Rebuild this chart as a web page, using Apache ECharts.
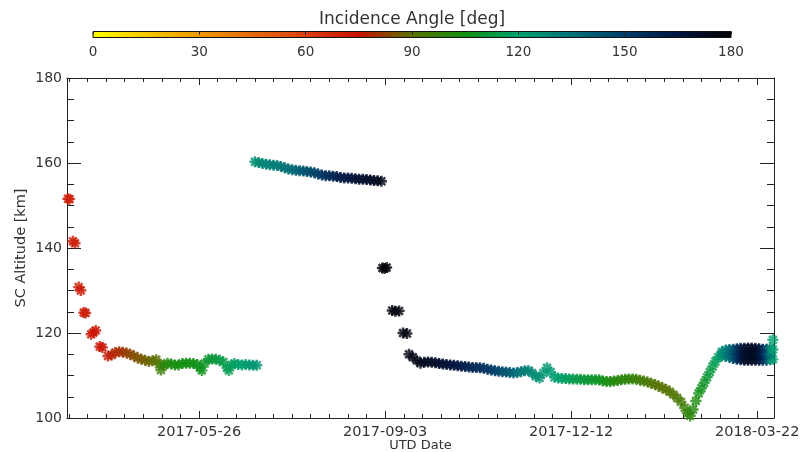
<!DOCTYPE html>
<html>
<head>
<meta charset="utf-8">
<title>SC Altitude vs UTD Date</title>
<script src="https://cdn.jsdelivr.net/npm/echarts@6.0.0/dist/echarts.min.js"></script>
<style>
html,body{margin:0;padding:0;background:#fff;}
#chart{width:803px;height:452px;}
</style>
</head>
<body>
<div id="chart"></div>
<script>
// ---------------- DATA ----------------
// x values are days counted from 2017-02-15 00:00 UTC
const dateTickLabels = ['2017-05-26', '2017-09-03', '2017-12-12', '2018-03-22'];
const altitudeTicks = [100, 120, 140, 160, 180];
const angleTicks = [0, 30, 60, 90, 120, 150, 180];

// Phase 1: early descent clusters and the first low band
const day1 = [29.5, 30.4, 32.2, 33.3, 35.3, 36.4, 38.0, 39.0, 42.0, 43.2, 44.4, 46.6, 48.0,
  51, 53, 55, 57, 59, 61, 63, 65, 67, 69, 71, 73, 75, 77, 78.5, 79.5,
  81, 83, 85, 87, 89, 91, 93, 95, 97, 99, 100.5, 101.5,
  103, 105, 107, 109, 111, 113, 115, 116, 117.5, 119, 121, 123, 125, 127, 129, 131];
const alt1 = [151.6, 151.5, 141.6, 141.1, 130.8, 130.0, 124.8, 124.7, 119.7, 120.1, 120.6, 116.8, 116.6,
  114.6, 114.8, 115.4, 115.6, 115.5, 115.3, 115.0, 114.6, 114.1, 113.8, 113.6, 113.3, 113.5, 113.7, 112.6, 111.3,
  112.4, 112.9, 112.7, 112.5, 112.5, 112.8, 112.9, 112.9, 112.8, 112.6, 111.8, 111.2,
  112.8, 113.8, 113.9, 113.8, 113.6, 113.2, 111.8, 111.2, 112.5, 112.8, 112.6, 112.5, 112.6, 112.5, 112.4, 112.4];
const inc1 = [72, 72, 72, 72, 72, 73, 73, 73, 73, 73, 74, 74, 75,
  76, 77, 78, 79, 80, 82, 83, 84, 85, 86, 87, 88, 89, 90, 93, 96,
  99, 101, 103, 104, 104, 105, 105, 105, 106, 106, 107, 107,
  108, 110, 111, 112, 113, 114, 115, 115, 116, 118, 119, 120, 121, 122, 123, 124];

// Phase 2: high arc
const day2 = [130, 132, 134, 136, 138, 140, 142, 144, 146, 148, 150, 152, 154, 156, 158, 160, 162, 164,
  166, 168, 170, 172, 174, 176, 178, 180, 182, 184, 186, 188, 190, 192, 194, 196, 198];
const alt2 = [160.3, 160.1, 159.9, 159.7, 159.6, 159.5, 159.4, 159.2, 158.9, 158.6, 158.4, 158.3, 158.2, 158.1,
  158.0, 157.9, 157.7, 157.4, 157.2, 157.0, 157.0, 156.9, 156.8, 156.6, 156.5, 156.5, 156.4, 156.3, 156.2,
  156.2, 156.1, 156.0, 155.9, 155.8, 155.7];
const inc2 = [126, 127, 128, 129, 130, 131, 132, 133, 134, 135, 136, 138, 140, 142, 144, 146, 148, 150,
  152, 154, 156, 158, 160, 162, 163, 164, 166, 167, 168, 169, 170, 171, 172, 173, 174];

// Phase 3: step-down clusters
const day3 = [198.5, 199.7, 200.8, 203.8, 205.5, 207.5, 209.6, 211.7, 212.8, 214.9, 217.1];
const alt3 = [135.3, 135.2, 135.4, 125.3, 125.1, 125.2, 120.0, 119.9, 115.0, 114.3, 113.5];
const inc3 = [178, 178, 178, 177, 177, 177, 177, 177, 176, 176, 175];

// Phase 4: late low band, dip and recovery
const day4 = [219, 221, 223, 225, 227, 229, 231, 233, 235, 237, 239, 241, 243, 245, 247, 249, 251, 253,
  255, 257, 259, 261, 263, 265, 267, 269, 271, 273, 275, 277, 279, 281, 283, 285, 287, 289, 291, 293,
  295, 297, 299, 301, 303, 305, 307, 309, 311, 313, 315,
  317, 319, 321, 323, 325, 327, 329, 331, 333, 335, 337, 339, 341, 343, 345, 347, 349, 351, 353, 355,
  357, 359, 361,
  362.5, 364, 365.5, 367, 368.5, 370, 371.5, 373, 374.5, 376, 377.5, 379];
const alt4 = [112.9, 113.1, 113.2, 113.1, 113.0, 112.8, 112.7, 112.6, 112.5, 112.4, 112.3, 112.2, 112.1,
  112.0, 111.9, 111.9, 111.8, 111.7, 111.5, 111.3, 111.1, 111.0, 110.9, 110.8, 110.7, 110.6, 110.7, 110.9,
  111.1, 111.2, 110.6, 109.8, 109.4, 110.6, 111.8, 110.8, 109.6, 109.4, 109.3, 109.3, 109.2, 109.2, 109.1,
  109.1, 109.0, 109.0, 109.0, 109.0, 109.0,
  108.7, 108.6, 108.6, 108.7, 108.8, 109.0, 109.1, 109.2, 109.2, 109.1, 108.9, 108.7, 108.5, 108.2, 107.9,
  107.5, 107.1, 106.7, 106.2, 105.5, 104.7, 103.8, 102.4,
  101.2, 100.5, 102.0, 104.0, 105.8, 107.0, 108.3, 109.6, 110.8, 112.1, 113.3, 114.3];
const inc4 = [175, 174, 173, 172, 171, 170, 169, 168, 167, 166, 165, 164, 162, 160, 158, 157, 155, 154,
  153, 152, 150, 148, 146, 144, 142, 139, 136, 134, 132, 130, 128, 127, 126, 124, 123, 122, 121, 120,
  119, 118, 117, 115, 114, 113, 112, 111, 110, 109, 108,
  106, 104, 103, 102, 101, 100, 100, 99, 98, 97, 96, 95, 94, 93, 92, 91, 91, 91, 92, 92,
  93, 94, 96,
  98, 100, 101, 103, 105, 107, 108, 110, 112, 114, 116, 118];

// Phase 5: final plateau (lower edge, middle and upper edge of the spread)
const day5 = [381, 383, 385, 387, 389, 391, 393, 395, 397, 399, 401, 403, 405, 407, 408.4];
const alt5Low = [114.6, 114.5, 114.3, 114.0, 113.8, 113.7, 113.6, 113.6, 113.6, 113.6, 113.6, 113.6, 113.6, 113.7, 113.8];
const alt5Mid = [115.1, 115.2, 115.2, 115.1, 115.0, 115.0, 115.0, 115.0, 115.0, 115.0, 114.9, 114.9, 114.9, 115.0, 116.1];
const alt5High = [115.6, 116.0, 116.1, 116.2, 116.3, 116.4, 116.4, 116.5, 116.5, 116.4, 116.3, 116.2, 116.2, 116.4, 118.4];
const inc5 = [124, 130, 136, 142, 152, 162, 168, 172, 173, 172, 168, 160, 148, 132, 120];

// ---------------- STYLE ----------------
const FONT = 'DejaVu Sans';
const TXT = '#333333';
const AX = '#222222';
const PALETTE = ['#ffff00', '#f6c800', '#ee9a00', '#e46a08', '#da4010', '#c81000', '#5a7000',
  '#109010', '#00a06e', '#007078', '#003c68', '#001440', '#000000'];
const ASTERISK = 'path://M0 3.9L10 3.9L10 6.1L0 6.1Z M3.9 0L6.1 0L6.1 10L3.9 10Z ' +
  'M0.7 2.3L2.3 0.7L9.3 7.7L7.7 9.3Z M7.7 0.7L9.3 2.3L2.3 9.3L0.7 7.7Z';

const EPOCH = Date.UTC(2017, 1, 15);
const DAY_MS = 86400000;
const toDay = s => (Date.parse(s + 'T00:00:00Z') - EPOCH) / DAY_MS;
const fmtDay = v => new Date(EPOCH + Math.round(v) * DAY_MS).toISOString().slice(0, 10);

const X_MIN = 29, X_MAX = 409;
const majorX = dateTickLabels.map(toDay);
const minorX = [];
for (let d = Math.ceil(X_MIN / 10) * 10; d <= X_MAX; d += 10) minorX.push(d);

const points = [];
function addPhase(days, alts, incs) {
  days.forEach((d, i) => points.push([d, alts[i], incs[i]]));
}
addPhase(day1, alt1, inc1);
addPhase(day2, alt2, inc2);
addPhase(day3, alt3, inc3);
addPhase(day4, alt4, inc4);
addPhase(day5, alt5Low, inc5);
addPhase(day5, alt5High, inc5);
addPhase(day5, alt5Mid, inc5);

const gridRect = { left: 67, right: 29, top: 78, bottom: 34, outerBoundsMode: 'none', containLabel: false };
const yMin = altitudeTicks[0], yMax = altitudeTicks[altitudeTicks.length - 1];
const yInt = altitudeTicks[1] - altitudeTicks[0];

const xBase = {
  type: 'value', min: X_MIN, max: X_MAX, splitLine: { show: false },
  axisLine: { show: true, onZero: false, lineStyle: { color: AX, width: 1 } }
};
const yBase = {
  type: 'value', min: yMin, max: yMax, interval: yInt, splitLine: { show: false },
  axisLine: { show: true, onZero: false, lineStyle: { color: AX, width: 1 } },
  axisTick: { inside: true, length: 14, lineStyle: { color: AX } },
  minorTick: { show: true, splitNumber: 4, length: 7, lineStyle: { color: AX } },
  minorSplitLine: { show: false }
};

const colorStops = PALETTE.map((c, i) => ({ offset: i / (PALETTE.length - 1), color: c }));

const option = {
  animation: false,
  backgroundColor: '#ffffff',
  textStyle: { fontFamily: FONT },
  grid: [
    Object.assign({}, gridRect),
    Object.assign({}, gridRect),
    Object.assign({}, gridRect),
    Object.assign({}, gridRect),
    { left: 93, right: 72, top: 31.5, height: 6, show: true, outerBoundsMode: 'none', containLabel: false,
      backgroundColor: { type: 'linear', x: 0, y: 0, x2: 1, y2: 0, colorStops: colorStops },
      borderColor: '#111', borderWidth: 1 }
  ],
  xAxis: [
    Object.assign({}, xBase, {
      gridIndex: 0, position: 'bottom',
      axisTick: { inside: true, length: 7, customValues: majorX, lineStyle: { color: AX } },
      axisLabel: { customValues: majorX, formatter: fmtDay, margin: 7, fontSize: 14.5, fontFamily: FONT, color: TXT },
      name: 'UTD Date', nameLocation: 'middle', nameGap: 21, nameMoveOverlap: false,
      nameTextStyle: { fontSize: 13, fontFamily: FONT, color: TXT }
    }),
    Object.assign({}, xBase, {
      gridIndex: 1, position: 'bottom', axisLine: { show: false },
      axisTick: { inside: true, length: 4, customValues: minorX, lineStyle: { color: AX } },
      axisLabel: { show: false }
    }),
    Object.assign({}, xBase, {
      gridIndex: 2, position: 'top',
      axisTick: { inside: true, length: 7, customValues: majorX, lineStyle: { color: AX } },
      axisLabel: { show: false }
    }),
    Object.assign({}, xBase, {
      gridIndex: 3, position: 'top', axisLine: { show: false },
      axisTick: { inside: true, length: 4, customValues: minorX, lineStyle: { color: AX } },
      axisLabel: { show: false }
    }),
    {
      type: 'value', gridIndex: 4, position: 'bottom',
      min: angleTicks[0], max: angleTicks[angleTicks.length - 1], interval: angleTicks[1] - angleTicks[0],
      axisLine: { show: false }, axisTick: { show: false }, splitLine: { show: false },
      axisLabel: { margin: 8, fontSize: 13.5, fontFamily: FONT, color: TXT }
    },
    {
      type: 'value', gridIndex: 4, position: 'top',
      min: angleTicks[0], max: angleTicks[angleTicks.length - 1], interval: angleTicks[1] - angleTicks[0],
      axisLine: { show: false }, splitLine: { show: false },
      axisTick: { inside: true, length: 3, lineStyle: { color: '#222' } },
      axisLabel: { show: false },
      name: 'Incidence Angle [deg]', nameLocation: 'middle', nameGap: 3, nameMoveOverlap: false,
      nameTextStyle: { fontSize: 17, fontFamily: FONT, color: TXT }
    }
  ],
  yAxis: [
    Object.assign({}, yBase, {
      gridIndex: 0, position: 'left',
      axisLabel: { margin: 5, fontSize: 14, fontFamily: FONT, color: TXT },
      name: 'SC Altitude [km]', nameLocation: 'middle', nameGap: 38, nameMoveOverlap: false,
      nameTextStyle: { fontSize: 14.5, fontFamily: FONT, color: TXT }
    }),
    Object.assign({}, yBase, { gridIndex: 1, position: 'right', axisLabel: { show: false } }),
    Object.assign({}, yBase, { gridIndex: 2, show: false }),
    Object.assign({}, yBase, { gridIndex: 3, show: false }),
    { type: 'value', gridIndex: 4, min: 0, max: 1, show: false }
  ],
  visualMap: {
    type: 'continuous', show: false, seriesIndex: 0, dimension: 2,
    min: angleTicks[0], max: angleTicks[angleTicks.length - 1],
    inRange: { color: PALETTE }
  },
  series: [{
    type: 'scatter', xAxisIndex: 0, yAxisIndex: 0,
    symbol: ASTERISK, symbolSize: 11,
    data: points, silent: true, z: 3
  }]
};

const chart = echarts.init(document.getElementById('chart'), null, { renderer: 'canvas' });
chart.setOption(option);
</script>
</body>
</html>
